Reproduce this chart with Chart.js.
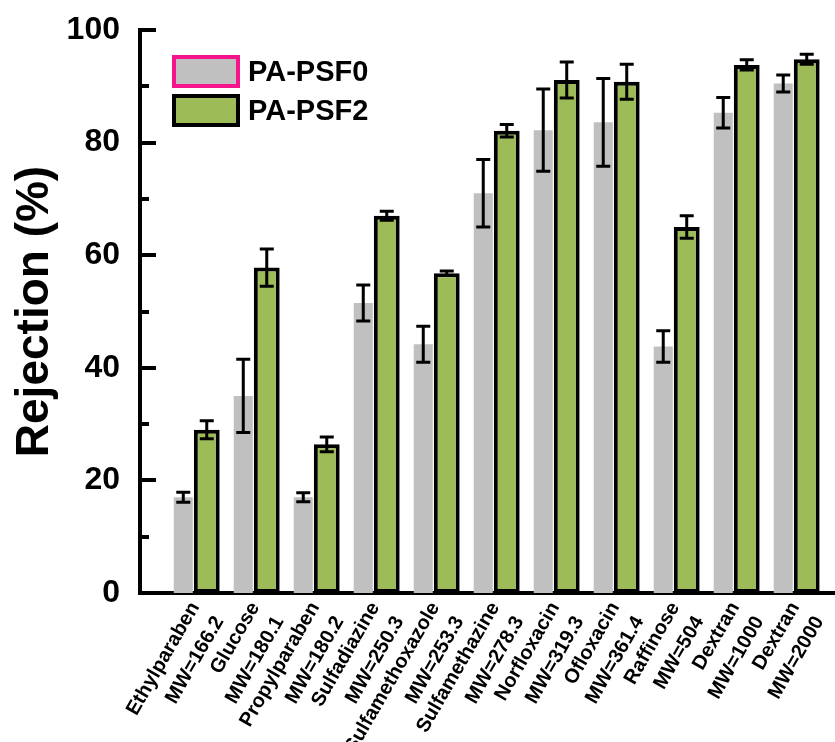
<!DOCTYPE html>
<html>
<head>
<meta charset="utf-8">
<script src="https://cdn.jsdelivr.net/npm/chart.js@4.4.0/dist/chart.umd.min.js"></script>
<style>
  html, body { margin: 0; padding: 0; background: #fff; overflow: hidden; }
</style>
</head>
<body>
<canvas id="myChart" width="835" height="742"></canvas>
<script>
'use strict'

// data
const compounds = ['Ethylparaben', 'Glucose', 'Propylparaben', 'Sulfadiazine', 'Sulfamethoxazole',
  'Sulfamethazine', 'Norfloxacin', 'Ofloxacin', 'Raffinose', 'Dextran', 'Dextran']
const weights = ['MW=166.2', 'MW=180.1', 'MW=180.2', 'MW=250.3', 'MW=253.3',
  'MW=278.3', 'MW=319.3', 'MW=361.4', 'MW=504', 'MW=1000', 'MW=2000']
const psf0 = [17, 35, 17, 51.5, 44.2, 71, 82.2, 83.6, 43.8, 85.3, 90.5]
const psf0Err = [0.9, 6.5, 0.8, 3.2, 3.2, 6, 7.3, 7.8, 2.8, 2.7, 1.5]
const psf2 = [29, 57.8, 26.4, 67, 56.8, 82.1, 91.1, 90.8, 65, 93.8, 94.8]
const psf2Err = [1.6, 3.3, 1.3, 0.8, 0.4, 1.1, 3.2, 3.1, 2, 0.9, 0.9]
const yTicks = [0, 20, 40, 60, 80, 100]

const FONT = "'Liberation Sans', Arial, sans-serif"

const toPoints = vals => vals.map((v, i) => ({x: i, y: v}))

// error bars on top of each bar
const errorBars = {
  id: 'errorBars',
  afterDatasetsDraw(chart) {
    const ctx = chart.ctx
    const y = chart.scales.y
    ctx.save()
    ctx.strokeStyle = '#000'
    ctx.lineWidth = 3
    chart.data.datasets.forEach((ds, d) => {
      chart.getDatasetMeta(d).data.forEach((bar, i) => {
        const v = ds.data[i].y
        const e = ds.errors[i]
        const hi = y.getPixelForValue(v + e)
        const lo = y.getPixelForValue(v - e)
        ctx.beginPath()
        ctx.moveTo(bar.x, hi); ctx.lineTo(bar.x, lo)
        ctx.moveTo(bar.x - 7, hi); ctx.lineTo(bar.x + 7, hi)
        ctx.moveTo(bar.x - 7, lo); ctx.lineTo(bar.x + 7, lo)
        ctx.stroke()
      })
    })
    ctx.restore()
  }
}

// inward major/minor ticks on the y axis
const innerTicks = {
  id: 'innerTicks',
  afterDatasetsDraw(chart) {
    const ctx = chart.ctx
    const y = chart.scales.y
    const left = chart.chartArea.left
    ctx.save()
    ctx.strokeStyle = '#000'
    ctx.lineWidth = 4
    for (let v = 10; v <= 100; v += 10) {
      const py = Math.round(y.getPixelForValue(v))
      ctx.beginPath()
      ctx.moveTo(left, py)
      ctx.lineTo(left + (v % 20 === 0 ? 16 : 9), py)
      ctx.stroke()
    }
    ctx.restore()
  }
}

// legend in the upper left of the plot
const boxLegend = {
  id: 'boxLegend',
  afterDraw(chart) {
    const ctx = chart.ctx
    const rows = [{y: 55, stroke: '#F5148C', lw: 4}, {y: 94, stroke: '#000', lw: 4}]
    ctx.save()
    chart.data.datasets.forEach((ds, d) => {
      const r = rows[d]
      ctx.fillStyle = ds.backgroundColor
      ctx.fillRect(172, r.y, 68, 33)
      ctx.strokeStyle = r.stroke
      ctx.lineWidth = r.lw
      ctx.strokeRect(172 + r.lw / 2, r.y + r.lw / 2, 68 - r.lw, 33 - r.lw)
      ctx.fillStyle = '#000'
      ctx.font = `bold 29px ${FONT}`
      ctx.textBaseline = 'middle'
      ctx.fillText(ds.label, 248, r.y + 18)
    })
    ctx.restore()
  }
}

const ctx = document.getElementById('myChart')

new Chart(ctx, {
  type: 'bar',
  data: {
    datasets: [{
      label: 'PA-PSF0',
      data: toPoints(psf0),
      errors: psf0Err,
      backgroundColor: '#C0C0C0',
      borderWidth: 0,
      categoryPercentage: 0.783,
      barPercentage: 0.81
    }, {
      label: 'PA-PSF2',
      data: toPoints(psf2),
      errors: psf2Err,
      backgroundColor: '#9DBC58',
      borderColor: '#000',
      borderWidth: 4,
      borderSkipped: false,
      categoryPercentage: 0.783,
      barPercentage: 1.1
    }]
  },
  plugins: [errorBars, innerTicks, boxLegend],
  options: {
    responsive: false,
    animation: false,
    devicePixelRatio: 1,
    layout: { padding: { top: 30, left: 0, right: 0, bottom: 0 } },
    plugins: {
      legend: { display: false },
      tooltip: { enabled: false }
    },
    scales: {
      x: {
        type: 'linear',
        offset: false,
        min: -0.917,
        max: 10.667,
        afterBuildTicks: s => { s.ticks = compounds.map((c, i) => ({value: i})) },
        afterFit: s => { s.height = 149; s.paddingLeft = 0; s.paddingRight = 0 },
        grid: { display: false, drawTicks: false },
        border: { color: '#000', width: 4 },
        ticks: {
          autoSkip: false,
          minRotation: 60,
          maxRotation: 60,
          padding: 4,
          color: '#000',
          font: { family: FONT, weight: 'bold', size: 20, lineHeight: 1.4 },
          callback: v => Number.isInteger(v) ? [compounds[v], weights[v]] : ''
        }
      },
      y: {
        min: 0,
        max: 100,
        afterBuildTicks: s => { s.ticks = yTicks.map(v => ({value: v})) },
        afterFit: s => { s.width = 140; s.paddingTop = 0; s.paddingBottom = 0 },
        grid: { display: false, drawTicks: false },
        border: { color: '#000', width: 4 },
        ticks: {
          padding: 20,
          color: '#000',
          font: { family: FONT, weight: 'bold', size: 32 }
        },
        title: {
          display: true,
          text: 'Rejection (%)',
          color: '#000',
          padding: { top: 8, bottom: 0 },
          font: { family: FONT, weight: 'bold', size: 46 }
        }
      }
    }
  }
})
</script>
</body>
</html>
